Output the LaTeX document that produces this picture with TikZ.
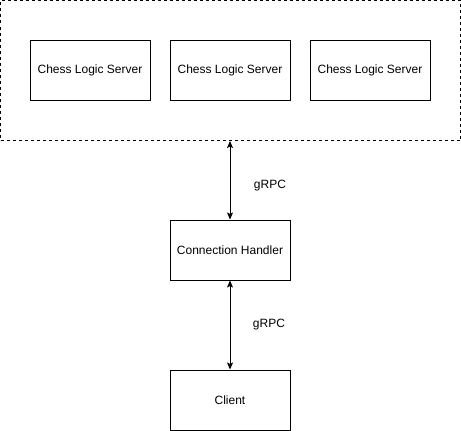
\documentclass[tikz,border=0pt]{standalone}
\usepackage{fontspec}
\setmainfont{Liberation Sans}
\usetikzlibrary{arrows.meta}
\begin{document}
\begin{tikzpicture}[x=1pt,y=-1pt,
  box/.style={draw=black,line width=1pt,minimum width=120pt,minimum height=60pt,inner sep=0pt,font=\fontsize{12}{14}\selectfont},
  lbl/.style={font=\fontsize{12}{14}\selectfont,inner sep=0pt},
  conn/.style={line width=1pt,{Stealth[length=7pt,width=6pt,inset=1.5pt]}-{Stealth[length=7pt,width=6pt,inset=1.5pt]}},
  group/.style={draw=black,line width=1pt,dash pattern=on 3pt off 3pt,minimum width=460pt,minimum height=140pt,inner sep=0pt}]
\useasboundingbox (0,0) rectangle (461,431);
\node[group] (grp) at (230.5,70.5) {};
\node[box] (s1) at (90,70) {Chess Logic Server};
\node[box] (s2) at (230,70) {Chess Logic Server};
\node[box] (s3) at (370,70) {Chess Logic Server};
\node[box] (ch) at (230,250) {Connection Handler};
\node[box] (cl) at (230,400) {Client};
\draw[conn] (ch.north |- grp.south) -- (ch.north);
\draw[conn] (ch.south) -- (cl.north);
\node[lbl] (g1) at (270,186) {gRPC};
\node[lbl] (g2) at (269,325) {gRPC};
\end{tikzpicture}
\end{document}
